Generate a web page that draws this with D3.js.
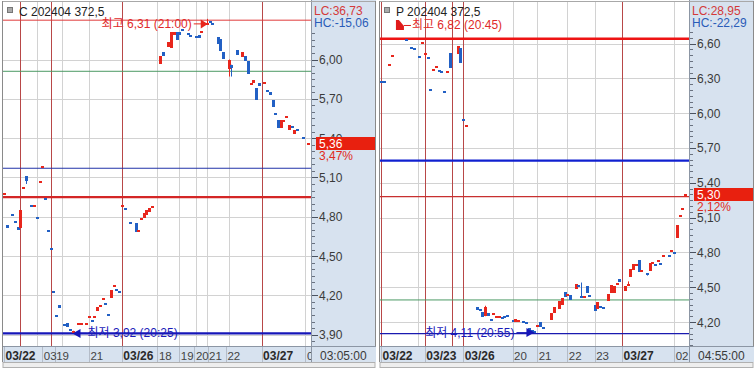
<!DOCTYPE html>
<html>
<head>
<meta charset="utf-8">
<script src="https://cdn.jsdelivr.net/npm/d3@7"></script>
<style>
body { margin: 0; background: #fff; }
svg { display: block; font-family: "Liberation Sans", "Noto Sans CJK KR", sans-serif; }
</style>
</head>
<body>
<svg id="chart" width="754" height="368"></svg>
<script>
// ---- left panel data: C 202404 372.5 ----
var leftT = [0,1,3,4,5,6,7,8, 10,11,12,13,14,15,16,17,18,19,20, 22,23,24,25, 27,28,
  30,31,32,33,34,35,36,37,38,39,40,41,42,43,44, 46, 48,49,50,51,52,53,54, 57,58,
  60,61,62,63,64,65, 67,68, 70,71,72, 74,75,76, 78,79,80, 82,83, 85,
  87,88,89,90,91,92,93, 95,96,97,98,99,100,101,102,103,104,105,106,107, 109, 111];
var leftO = [4.97,4.74,4.82,4.77,4.72,4.71,5.02,5.11, 4.89,4.88,4.80,5.06,5.18,4.94,4.70,4.56,4.23,4.05,4.13,
  3.98,3.99,3.94,3.92, 3.98,3.98,
  3.98,4.03,4.01,4.03,4.08,4.12,4.17,4.14,4.06,4.18,4.27,4.25,4.23,4.88,4.87, 4.76,
  4.75,4.69,4.78,4.79,4.81,4.84,4.87, 5.97,6.06,
  6.09,6.09,6.19,6.21,6.21,6.23, 6.20,6.19, 6.18,6.19,6.21, 6.27,6.29,6.28, 6.17,6.16,6.06, 5.93,5.96, 6.07,
  6.02,6.03,5.99,5.81,5.82,5.78,5.82, 5.82,5.77,5.75,5.69,5.59,5.54,5.48,5.53,5.56,5.46,5.49,5.43,5.47, 5.41, 5.35];
var leftC = [4.98,4.72,4.81,4.76,4.70,4.85,5.03,5.07, 4.88,4.89,4.79,5.07,5.19,4.93,4.69,4.55,4.22,4.04,4.11,
  3.97,3.96,3.93,3.93, 3.99,3.99,
  3.99,4.04,4.00,4.04,4.11,4.13,4.18,4.13,4.05,4.24,4.28,4.24,4.22,4.89,4.86, 4.75,
  4.68,4.70,4.79,4.83,4.85,4.87,4.88, 6.03,6.03,
  6.13,6.21,6.21,6.15,6.19,6.22, 6.19,6.18, 6.17,6.17,6.22, 6.28,6.28,6.27, 6.12,6.07,6.01, 6.00,5.94, 6.03,
  6.06,5.99,5.89,5.82,5.84,5.69,5.80, 5.83,5.76,5.73,5.64,5.58,5.48,5.54,5.54,5.57,5.50,5.48,5.46,5.46, 5.40, 5.36];
var leftWickT = [8, 25, 74, 82, 83];
var leftWickH = [5.11, 3.93, 6.31, 6.00, 5.96];
var leftWickL = [5.05, 3.92, 6.27, 5.87, 5.87];
var leftYTicks = [3.90, 4.20, 4.50, 4.80, 5.10, 5.40, 5.70, 6.00];
var leftXTickSlots = [0, 14, 18.5, 31, 43, 56, 64, 69.5, 74.3, 81, 94, 110];
var leftXTickLabels = ["03/22", "03", "19", "21", "03/26", "18", "19", "20", "21", "22", "03/27", "0"];
var leftGridSlots = [12, 21, 31, 56, 64, 70, 74, 82, 110];
var leftSessionSlots = [6, 17, 43, 94];

// ---- right panel data: P 202404 372.5 ----
var rightT = [0,1,3,4,9,11,12,14,15,16,17,18,19,20,21,22,23,24,25,28,29,30,31,
  35,36,37,38,39,40,41,42,43,44,45,46,48,49,50,52,53,54,55,56,57,58,59,
  62,63,65,66,67,68,69,71,72,73,74,75,76,78,79,80,81,83,84,85,86,87,
  89,90,91,92,93,94,95,97,98,99,100,101,102,103,105,106,107,108,109,110,111];
var rightO = [6.28,6.28,6.41,6.49,6.64,6.57,6.56,6.49,6.60,6.50,6.48,6.21,6.37,6.40,6.37,6.36,6.19,6.35,6.52,6.51,6.56,5.95,5.88,
  4.33,4.31,4.29,4.25,4.28,4.23,4.27,4.24,4.24,4.24,4.25,4.26,4.22,4.20,4.20,4.21,4.20,4.15,4.13,4.12,4.16,4.20,4.16,
  4.22,4.28,4.31,4.35,4.46,4.43,4.43,4.49,4.52,4.42,4.40,4.51,4.43,4.35,4.31,4.34,4.33,4.38,4.45,4.45,4.53,4.57,
  4.47,4.52,4.59,4.65,4.69,4.73,4.64,4.62,4.64,4.71,4.70,4.72,4.71,4.77,4.78,4.81,4.80,4.93,5.11,5.17,5.27];
var rightC = [6.27,6.26,6.42,6.50,6.63,6.56,6.55,6.48,6.61,6.52,6.47,6.20,6.38,6.41,6.36,6.35,6.18,6.36,6.39,6.58,6.43,5.94,5.90,
  4.30,4.29,4.25,4.33,4.25,4.22,4.28,4.25,4.25,4.23,4.23,4.24,4.21,4.23,4.22,4.20,4.19,4.12,4.11,4.11,4.17,4.16,4.15,
  4.28,4.33,4.38,4.41,4.42,4.44,4.39,4.53,4.51,4.41,4.42,4.45,4.41,4.30,4.37,4.33,4.32,4.44,4.52,4.51,4.54,4.54,
  4.51,4.53,4.66,4.70,4.70,4.63,4.65,4.61,4.71,4.72,4.69,4.73,4.70,4.78,4.77,4.82,4.79,5.04,5.12,5.18,5.30];
var rightWickT = [16, 38, 73, 90, 97];
var rightWickH = [6.52, 4.34, 4.54, 4.55, 4.62];
var rightWickL = [6.47, 4.25, 4.41, 4.51, 4.60];
var rightYTicks = [4.20, 4.50, 4.80, 5.10, 5.40, 5.70, 6.00, 6.30, 6.60];
var rightXTickSlots = [0, 16, 30, 48, 57, 68, 78, 88, 107];
var rightXTickLabels = ["03/22", "03/23", "03/26", "20", "21", "22", "23", "03/27", "02"];
var rightGridSlots = [13.5, 48, 57, 68, 78, 107];
var rightSessionSlots = [0, 16, 26, 30, 88];

var RED = "#e8261c", BLUE = "#2260c4", STRIP = "#d7e2ef";
var svg = d3.select("#chart");
var comma = function(v) { return d3.format(".2f")(v).replace(".", ","); };

function drawPanel(p) {
  var g = svg.append("g");
  var plotL = p.left, plotR = p.strip, top = 2, bottom = 346;
  var x = d3.scaleLinear().domain([0, 112]).range([p.left + 1, p.left + 1 + 112 * 2.74]);
  var y = d3.scaleLinear().domain(p.yDomain).range(p.yRange);

  g.append("clipPath").attr("id", "clip" + p.id)
    .append("rect").attr("x", plotL).attr("y", top).attr("width", plotR - plotL).attr("height", bottom - top);

  g.append("rect").attr("x", plotL).attr("y", top).attr("width", plotR - plotL).attr("height", bottom - top)
    .attr("fill", "#fff");

  var plot = g.append("g").attr("clip-path", "url(#clip" + p.id + ")");

  // horizontal grid
  plot.selectAll("line.hg").data(p.yTicks).join("line")
    .attr("x1", plotL).attr("x2", plotR)
    .attr("y1", function(d) { return Math.round(y(d)) + 0.5; })
    .attr("y2", function(d) { return Math.round(y(d)) + 0.5; })
    .attr("stroke", "#d2d2d2");
  // vertical grid
  plot.selectAll("line.vg").data(p.grid).join("line")
    .attr("x1", function(d) { return Math.round(x(d)) + 0.5; })
    .attr("x2", function(d) { return Math.round(x(d)) + 0.5; })
    .attr("y1", top).attr("y2", bottom)
    .attr("stroke", "#d2d2d2");
  // session separators
  plot.selectAll("line.ss").data(p.sessions).join("line")
    .attr("x1", function(d) { return Math.round(x(d)) + 0.5; })
    .attr("x2", function(d) { return Math.round(x(d)) + 0.5; })
    .attr("y1", top).attr("y2", bottom)
    .attr("stroke", "#b84848");

  // reference lines
  plot.selectAll("line.ref").data(p.refs).join("line")
    .attr("x1", plotL).attr("x2", plotR)
    .attr("y1", function(d) { return y(d.v); })
    .attr("y2", function(d) { return y(d.v); })
    .attr("stroke", function(d) { return d.color; })
    .attr("stroke-width", function(d) { return d.w; });

  // wicks
  plot.selectAll("line.wk").data(p.wickT).join("line")
    .attr("x1", function(d) { return Math.round(x(d)) + 0.5; })
    .attr("x2", function(d) { return Math.round(x(d)) + 0.5; })
    .attr("y1", function(d, i) { return y(p.wickH[i]); })
    .attr("y2", function(d, i) { return y(p.wickL[i]); })
    .attr("stroke", function(d) {
      var k = p.t.indexOf(d);
      return p.c[k] > p.o[k] ? RED : BLUE;
    });

  // candles
  var candles = p.t.map(function(d, i) { return { t: d, o: p.o[i], c: p.c[i] }; });
  plot.selectAll("rect.cd").data(candles).join("rect")
    .attr("shape-rendering", "crispEdges")
    .attr("x", function(d) { return Math.round(x(d.t)) - 1; })
    .attr("width", 3)
    .attr("y", function(d) { return Math.round(y(Math.max(d.o, d.c))); })
    .attr("height", function(d) { return Math.max(2, Math.round(Math.abs(y(d.o) - y(d.c)))); })
    .attr("fill", function(d) { return d.c > d.o ? RED : BLUE; });

  // title
  g.append("rect").attr("x", plotL + 4.5).attr("y", 7.5).attr("width", 5).attr("height", 5)
    .attr("fill", "#aaa").attr("stroke", "#777");
  g.append("text").attr("x", plotL + 16).attr("y", 16).attr("font-size", 12).attr("fill", "#222")
    .text(p.title);

  // high / low markers
  p.markers(g, x, y);

  // axis strip
  var sw = p.stripR - p.strip;
  g.append("rect").attr("x", p.strip).attr("y", 0).attr("width", sw).attr("height", 362).attr("fill", STRIP);
  g.append("line").attr("x1", p.strip + 0.5).attr("x2", p.strip + 0.5).attr("y1", 0).attr("y2", 362)
    .attr("stroke", "#8c96a4");
  var minor = d3.range(p.minor[0], p.minor[1] + 0.001, 0.05);
  g.selectAll("line.mt").data(minor).join("line")
    .attr("x1", p.strip + 1).attr("x2", p.strip + 4)
    .attr("y1", function(d) { return Math.round(y(d)) + 0.5; })
    .attr("y2", function(d) { return Math.round(y(d)) + 0.5; })
    .attr("stroke", "#6a7280");
  g.selectAll("line.Mt").data(p.yTicks).join("line")
    .attr("x1", p.strip + 1).attr("x2", p.strip + 7)
    .attr("y1", function(d) { return Math.round(y(d)) + 0.5; })
    .attr("y2", function(d) { return Math.round(y(d)) + 0.5; })
    .attr("stroke", "#4a5260");
  g.selectAll("text.yt").data(p.yTicks).join("text")
    .attr("x", p.strip + 8).attr("y", function(d) { return y(d) + 4.5; })
    .attr("font-size", 12).attr("fill", "#3a3a3a")
    .text(comma);

  g.append("text").attr("x", p.strip + 3).attr("y", 15).attr("font-size", 12).attr("fill", "#d43a3a").text(p.lc);
  g.append("text").attr("x", p.strip + 3).attr("y", 27).attr("font-size", 12).attr("fill", "#2a5cb8").text(p.hc);

  // current price box
  var cy = y(p.last);
  g.append("rect").attr("x", p.strip + 5).attr("y", Math.round(cy) - 6).attr("width", sw - 6).attr("height", 13)
    .attr("fill", "#e8200f");
  g.append("text").attr("x", p.strip + 8).attr("y", cy + 5).attr("font-size", 12).attr("fill", "#fff").text(comma(p.last));
  g.append("text").attr("x", p.strip + 8).attr("y", cy + 17).attr("font-size", 12).attr("fill", "#e02a20").text(p.pct);

  // plot frame
  g.append("line").attr("x1", plotL).attr("x2", p.stripR).attr("y1", 1.5).attr("y2", 1.5).attr("stroke", "#a8a8a8");
  g.append("line").attr("x1", plotL - 0.5).attr("x2", plotL - 0.5).attr("y1", 1).attr("y2", 362).attr("stroke", "#8a8a8a");
  g.append("line").attr("x1", p.stripR - 0.5).attr("x2", p.stripR - 0.5).attr("y1", 1).attr("y2", 362).attr("stroke", "#8a8a8a");

  // bottom time axis row
  g.append("rect").attr("x", plotL).attr("y", 346).attr("width", p.stripR - plotL).attr("height", 16).attr("fill", STRIP);
  g.selectAll("line.xs").data(p.xSlots).join("line")
    .attr("x1", function(d) { return Math.round(x(d)) + 0.5; })
    .attr("x2", function(d) { return Math.round(x(d)) + 0.5; })
    .attr("y1", 347).attr("y2", 362)
    .attr("stroke", "#b4bcc8");
  g.selectAll("text.xt").data(p.xSlots).join("text")
    .attr("x", function(d) { return x(d) + 1.5; })
    .attr("y", 360)
    .attr("font-size", function(d, i) { return p.xLabels[i].indexOf("/") >= 0 ? 12 : 11.5; })
    .attr("font-weight", function(d, i) { return p.xLabels[i].indexOf("/") >= 0 ? "bold" : "normal"; })
    .attr("fill", function(d, i) { return p.xLabels[i].indexOf("/") >= 0 ? "#2a2a2a" : "#444"; })
    .text(function(d, i) { return p.xLabels[i]; });
  g.append("rect").attr("x", p.strip).attr("y", 347).attr("width", sw).attr("height", 15).attr("fill", STRIP);
  g.append("line").attr("x1", p.strip + 0.5).attr("x2", p.strip + 0.5).attr("y1", 346).attr("y2", 362)
    .attr("stroke", "#8c96a4");
  g.append("line").attr("x1", plotL).attr("x2", p.stripR).attr("y1", 346.5).attr("y2", 346.5).attr("stroke", "#8c96a4");
  g.append("text").attr("x", p.strip + 9).attr("y", 360).attr("font-size", 12).attr("fill", "#3a3a3a").text(p.time);

  // scroll bar strip
  g.append("rect").attr("x", plotL).attr("y", 362.5).attr("width", p.stripR - plotL - 1).attr("height", 5)
    .attr("fill", "#eeeeee").attr("stroke", "#b0b0b0");
}

drawPanel({
  id: "L", left: 3, strip: 311, stripR: 376,
  yDomain: [3.90, 6.00], yRange: [334.7, 59.5],
  t: leftT, o: leftO, c: leftC,
  wickT: leftWickT, wickH: leftWickH, wickL: leftWickL,
  yTicks: leftYTicks, minor: [3.85, 6.20],
  grid: leftGridSlots, sessions: leftSessionSlots,
  xSlots: leftXTickSlots, xLabels: leftXTickLabels,
  refs: [
    { v: 6.30, color: "#e03a3a", w: 1 },
    { v: 5.91, color: "#4c9a64", w: 1 },
    { v: 5.17, color: "#2233a8", w: 1.2 },
    { v: 4.95, color: "#d42626", w: 2.2 },
    { v: 3.91, color: "#1616b8", w: 2.4 }
  ],
  title: "C 202404 372,5", lc: "LC:36,73", hc: "HC:-15,06",
  last: 5.36, pct: "3,47%", time: "03:05:00",
  markers: function(g, x, y) {
    var hx = x(74) + 1, hy = y(6.31) + 5;
    g.append("path").attr("d", "M" + hx + "," + hy + " l-7,-4.5 v9 z").attr("fill", RED);
    g.append("line").attr("x1", hx - 14).attr("x2", hx - 6).attr("y1", hy).attr("y2", hy).attr("stroke", RED);
    g.append("text").attr("x", hx - 16).attr("y", hy + 4).attr("text-anchor", "end")
      .attr("font-size", 12).attr("fill", "#e02a2a").text("최고 6,31 (21:00)");
    var lx = x(25), ly = y(3.91);
    g.append("path").attr("d", "M" + lx + "," + ly + " l8,-4.5 v9 z").attr("fill", "#1616b8");
    g.append("line").attr("x1", lx + 6).attr("x2", lx + 14).attr("y1", ly).attr("y2", ly).attr("stroke", "#1616b8");
    g.append("text").attr("x", lx + 15).attr("y", ly + 4).attr("font-size", 12).attr("fill", "#1a1ab8")
      .text("최저 3,92 (20:25)");
  }
});

drawPanel({
  id: "R", left: 380, strip: 689, stripR: 754,
  yDomain: [4.20, 6.60], yRange: [322, 43.5],
  t: rightT, o: rightO, c: rightC,
  wickT: rightWickT, wickH: rightWickH, wickL: rightWickL,
  yTicks: rightYTicks, minor: [4.00, 6.70],
  grid: rightGridSlots, sessions: rightSessionSlots,
  xSlots: rightXTickSlots, xLabels: rightXTickLabels,
  refs: [
    { v: 6.64, color: "#ee1414", w: 2.5 },
    { v: 5.59, color: "#1020d0", w: 2.2 },
    { v: 5.28, color: "#c83030", w: 1.2 },
    { v: 4.39, color: "#4c9a64", w: 1 },
    { v: 4.10, color: "#1a1ab0", w: 1.4 }
  ],
  title: "P 202404 372,5", lc: "LC:28,95", hc: "HC:-22,29",
  last: 5.30, pct: "2,12%", time: "04:55:00",
  markers: function(g, x, y) {
    var fx = x(6) - 1.5, fy = y(6.82) + 2;
    g.append("path").attr("d", "M" + fx + "," + fy + " h3 l5,6 v4 h-8 z").attr("fill", "#e01a1a");
    g.append("line").attr("x1", fx + 8).attr("x2", fx + 15).attr("y1", fy + 5.5).attr("y2", fy + 5.5).attr("stroke", "#e01a1a");
    g.append("text").attr("x", fx + 16).attr("y", fy + 9.5).attr("font-size", 12).attr("fill", "#e02a2a")
      .text("최고 6,82 (20:45)");
    var lx = x(56), ly = y(4.10) - 1;
    g.append("path").attr("d", "M" + lx + "," + ly + " l-8,-4.5 v9 z").attr("fill", "#1616b8");
    g.append("line").attr("x1", lx - 18).attr("x2", lx - 6).attr("y1", ly).attr("y2", ly).attr("stroke", "#1616b8");
    g.append("text").attr("x", lx - 20).attr("y", ly + 4).attr("text-anchor", "end")
      .attr("font-size", 12).attr("fill", "#1a1ab8").text("최저 4,11 (20:55)");
  }
});
</script>
</body>
</html>
